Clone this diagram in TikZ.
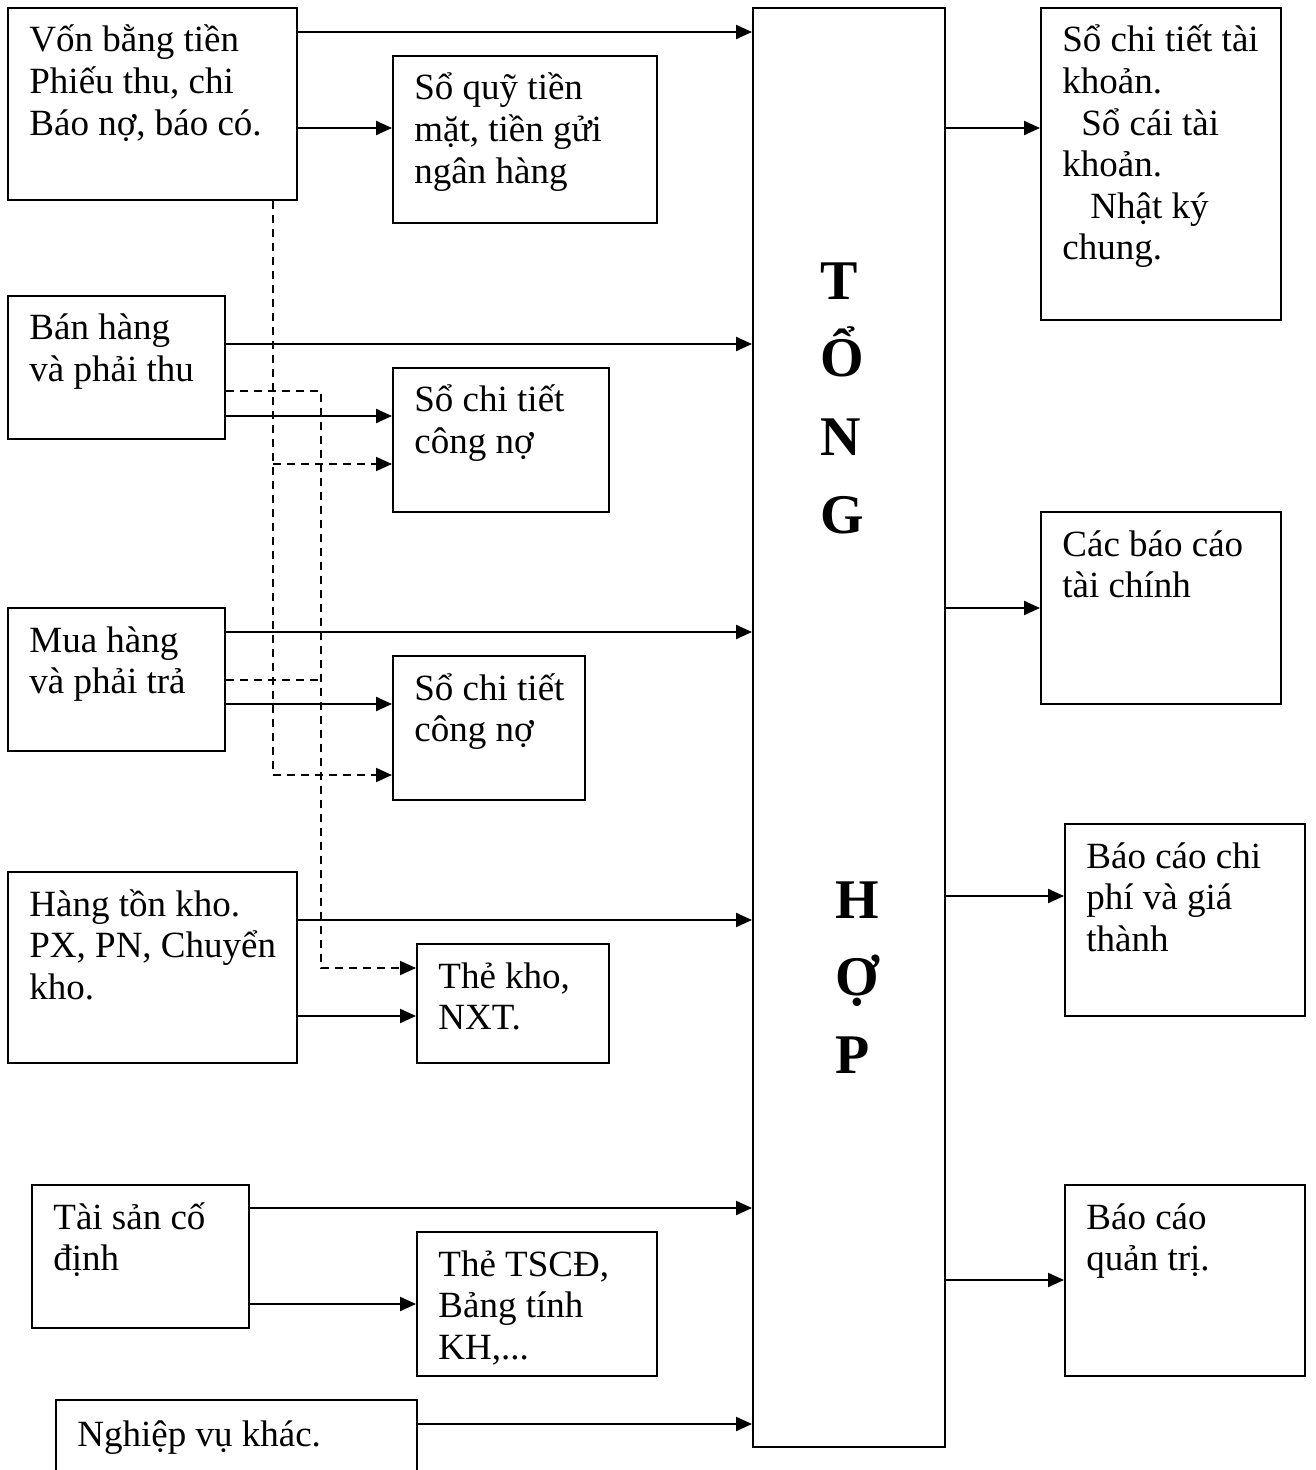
\documentclass[tikz,border=0pt]{standalone}
\usepackage{fontspec}
\setmainfont{Liberation Serif}
\usetikzlibrary{fit,arrows.meta}
\tikzset{
  box/.style={draw, line width=1pt, inner sep=0pt},
  arr/.style={line width=1.1pt, -{Triangle[length=8pt,width=7pt]}},
  dline/.style={line width=0.9pt, dash pattern=on 4pt off 3pt},
  darr/.style={dline, -{Triangle[length=8pt,width=7pt]}},
  txt/.style={anchor=base west, inner sep=0pt, font=\fontsize{18.5pt}{20.8pt}\selectfont},
  big/.style={anchor=base west, inner sep=0pt, font=\fontsize{28pt}{30pt}\selectfont\bfseries},
}
\newcommand{\tx}[1]{\parbox[t]{160pt}{\raggedright #1}}
\begin{document}
\begin{tikzpicture}[x=0.5pt,y=-0.5pt]
\useasboundingbox (0,0) rectangle (1315,1470);
% boxes
\node[box, fit={(8,8) (297,200)}] (b1) {};
\node[box, fit={(393,56) (657,223)}] (s1) {};
\node[box, fit={(753,8) (945,1447)}] (th) {};
\node[box, fit={(1041,8) (1281,320)}] (r1) {};
\node[box, fit={(8,296) (225,439)}] (bh) {};
\node[box, fit={(393,368) (609,512)}] (c1) {};
\node[box, fit={(1041,512) (1281,704)}] (r2) {};
\node[box, fit={(8,608) (225,751)}] (mh) {};
\node[box, fit={(393,656) (585,800)}] (c2) {};
\node[box, fit={(8,872) (297,1063)}] (htk) {};
\node[box, fit={(417,944) (609,1063)}] (tk) {};
\node[box, fit={(1065,824) (1305,1016)}] (r3) {};
\node[box, fit={(32,1185) (249,1328)}] (ts) {};
\node[box, fit={(417,1232) (657,1376)}] (tt) {};
\node[box, fit={(1065,1185) (1305,1376)}] (r4) {};
\node[box, fit={(56,1400) (417,1490)}] (nv) {};
% texts
\node[txt] (tb1) at (29,52) {\tx{Vốn bằng tiền\\Phiếu thu, chi\\Báo nợ, báo có.}};
\node[txt] (ts1) at (414,100) {\tx{Sổ quỹ tiền\\mặt, tiền gửi\\ngân hàng}};
\node[txt] (tr1) at (1062,52) {\tx{Sổ chi tiết tài\\khoản.\\\hspace*{9.5pt}Sổ cái tài\\khoản.\\\hspace*{14pt}Nhật ký\\chung.}};
\node[txt] (tbh) at (29,340) {\tx{Bán hàng\\và phải thu}};
\node[txt] (tc1) at (414,412) {\tx{Sổ chi tiết\\công nợ}};
\node[txt] (tr2) at (1062,556) {\tx{Các báo cáo\\tài chính}};
\node[txt] (tmh) at (29,652) {\tx{Mua hàng\\và phải trả}};
\node[txt] (tc2) at (414,700) {\tx{Sổ chi tiết\\công nợ}};
\node[txt] (thtk) at (29,916) {\tx{Hàng tồn kho.\\PX, PN, Chuyển\\kho.}};
\node[txt] (ttk) at (438,988) {\tx{Thẻ kho,\\NXT.}};
\node[txt] (tr3) at (1086,868) {\tx{Báo cáo chi\\phí và giá\\thành}};
\node[txt] (tts) at (53,1229) {\tx{Tài sản cố\\định}};
\node[txt] (ttt) at (438,1276) {\tx{Thẻ TSCĐ,\\Bảng tính\\KH,...}};
\node[txt] (tr4) at (1086,1229) {\tx{Báo cáo\\quản trị.}};
\node[txt] (tnv) at (77,1446) {Nghiệp vụ khác.};
% big letters
\node[big] (l1) at (820,300) {T};
\node[big] (l2) at (820,377) {Ổ};
\node[big] (l3) at (820,455) {N};
\node[big] (l4) at (820,533) {G};
\node[big] (l5) at (835,918) {H};
\node[big] (l6) at (835,995) {Ợ};
\node[big] (l7) at (835,1073) {P};
% solid arrows
\draw[arr] (b1.east |- 0,32) -- (th.west |- 0,32);
\draw[arr] (b1.east |- 0,128) -- (s1.west |- 0,128);
\draw[arr] (bh.east |- 0,344) -- (th.west |- 0,344);
\draw[arr] (bh.east |- 0,416) -- (c1.west |- 0,416);
\draw[arr] (mh.east |- 0,632) -- (th.west |- 0,632);
\draw[arr] (mh.east |- 0,704) -- (c2.west |- 0,704);
\draw[arr] (htk.east |- 0,920) -- (th.west |- 0,920);
\draw[arr] (htk.east |- 0,1016) -- (tk.west |- 0,1016);
\draw[arr] (ts.east |- 0,1208) -- (th.west |- 0,1208);
\draw[arr] (ts.east |- 0,1304) -- (tt.west |- 0,1304);
\draw[arr] (nv.east |- 0,1424) -- (th.west |- 0,1424);
\draw[arr] (th.east |- 0,128) -- (r1.west |- 0,128);
\draw[arr] (th.east |- 0,608) -- (r2.west |- 0,608);
\draw[arr] (th.east |- 0,896) -- (r3.west |- 0,896);
\draw[arr] (th.east |- 0,1280) -- (r4.west |- 0,1280);
% dashed connectors
\draw[dline] (b1.south -| 273,0) -- (273,775);
\draw[darr] (273,775) -- (c2.west |- 0,775);
\draw[darr] (273,464) -- (c1.west |- 0,464);
\draw[darr] (bh.east |- 0,391) -- (321,391) -- (321,968) -- (tk.west |- 0,968);
\draw[dline] (mh.east |- 0,680) -- (321,680);
\end{tikzpicture}
\end{document}
